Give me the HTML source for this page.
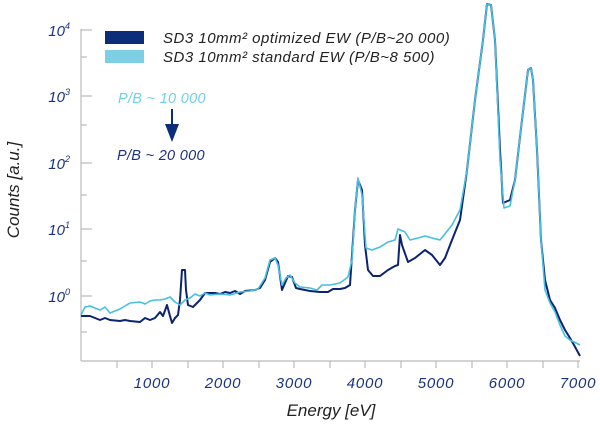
<!DOCTYPE html>
<html><head><meta charset="utf-8"><style>
html,body{margin:0;padding:0;background:#fff;}
svg{display:block;font-family:"Liberation Sans",sans-serif;}
</style></head><body>
<svg width="600" height="425" viewBox="0 0 600 425">
<g stroke="#bbb" stroke-width="1.2" fill="none">
<line x1="81" y1="29" x2="81" y2="361"/>
<line x1="81" y1="361" x2="580" y2="361"/>
<line x1="81" y1="30" x2="92" y2="30"/><line x1="81" y1="57" x2="87" y2="57"/>
<line x1="81" y1="96" x2="92" y2="96"/><line x1="81" y1="125" x2="87" y2="125"/>
<line x1="81" y1="163" x2="92" y2="163"/><line x1="81" y1="195" x2="87" y2="195"/>
<line x1="81" y1="229" x2="92" y2="229"/><line x1="81" y1="261" x2="87" y2="261"/>
<line x1="81" y1="296" x2="92" y2="296"/><line x1="81" y1="332" x2="87" y2="332"/>
<line x1="117" y1="361" x2="117" y2="368"/><line x1="152" y1="361" x2="152" y2="368"/>
<line x1="188" y1="361" x2="188" y2="368"/><line x1="223" y1="361" x2="223" y2="368"/>
<line x1="259" y1="361" x2="259" y2="368"/><line x1="294" y1="361" x2="294" y2="368"/>
<line x1="330" y1="361" x2="330" y2="368"/><line x1="365" y1="361" x2="365" y2="368"/>
<line x1="401" y1="361" x2="401" y2="368"/><line x1="436" y1="361" x2="436" y2="368"/>
<line x1="472" y1="361" x2="472" y2="368"/><line x1="507" y1="361" x2="507" y2="368"/>
<line x1="543" y1="361" x2="543" y2="368"/><line x1="578" y1="361" x2="578" y2="368"/>
</g>
<g fill="#1a3380" font-size="15" font-style="italic" text-anchor="middle" letter-spacing="0.8">
<text x="152" y="388">1000</text><text x="223" y="388">2000</text><text x="294" y="388">3000</text>
<text x="365" y="388">4000</text><text x="436" y="388">5000</text><text x="507" y="388">6000</text><text x="578" y="388">7000</text>
</g>
<g fill="#1a3380" font-size="15" font-style="italic" text-anchor="end">
<text x="70" y="36">10<tspan font-size="9" dy="-7">4</tspan></text>
<text x="70" y="102">10<tspan font-size="9" dy="-7">3</tspan></text>
<text x="70" y="169">10<tspan font-size="9" dy="-7">2</tspan></text>
<text x="70" y="235">10<tspan font-size="9" dy="-7">1</tspan></text>
<text x="70" y="302">10<tspan font-size="9" dy="-7">0</tspan></text>
</g>
<text x="331" y="416" font-size="17" font-style="italic" fill="#222" text-anchor="middle">Energy [eV]</text>
<text transform="translate(19,190) rotate(-90)" font-size="17" font-style="italic" fill="#222" text-anchor="middle">Counts [a.u.]</text>
<rect x="105" y="31" width="39" height="13" fill="#0b2d7a"/>
<rect x="105" y="50" width="39" height="13" fill="#7dd0e3"/>
<g font-size="15" font-style="italic" fill="#222" letter-spacing="0.5">
<text x="163" y="43">SD3 10mm² optimized EW (P/B~20 000)</text>
<text x="163" y="62">SD3 10mm² standard EW (P/B~8 500)</text>
</g>
<text x="118" y="103" font-size="14.5" font-style="italic" fill="#6fd0e6" letter-spacing="0.3">P/B ~ 10 000</text>
<text x="117" y="160" font-size="14.5" font-style="italic" fill="#1a3380" letter-spacing="0.3">P/B ~ 20 000</text>
<line x1="172" y1="109" x2="172" y2="130" stroke="#0b2d7a" stroke-width="2"/>
<polygon points="165,124 179,124 172,142" fill="#0b2d7a"/>
<polyline fill="none" stroke="#0b2470" stroke-width="2" stroke-linejoin="round" points="81,316 90,316 95,318 100,320 105,318 110,320 120,321 125,320 130,321 140,322 145,318 150,320 155,318 160,312 163,316 167,305 170,316 172,323 175,318 178,315 180,300 182,270 185,270 186,290 188,305 193,307 200,300 205,293 215,293 220,294 225,292 230,293 235,291 240,294 245,291 255,290 260,288 265,280 270,262 275,258 278,262 282,290 285,283 288,276 292,277 296,288 300,289 310,291 320,292 328,292 333,289 340,289 345,288 350,285 355,210 358,180 362,190 365,245 368,270 373,276 380,276 388,270 395,266 398,265 400,235 402,245 408,262 415,258 425,250 432,255 440,265 445,258 452,240 460,220 467,170 475,100 483,40 487,4 491,5 495,40 500,150 503,203 510,200 515,180 522,120 528,70 531,68 533,80 537,150 541,240 545,280 550,300 555,308 560,320 565,330 570,338 574,345 580,356"/>
<polyline fill="none" stroke="#45c0e0" stroke-width="1.6" stroke-linejoin="round" points="81,315 85,307 90,306 95,308 100,310 105,307 110,313 115,311 120,309 125,306 130,303 140,302 145,304 150,301 155,300 160,300 165,299 170,297 175,302 180,305 185,300 190,298 195,294 200,296 205,293 210,295 220,294 230,295 240,292 250,291 258,289 265,278 270,260 275,258 278,265 282,285 286,278 290,275 295,283 300,287 310,288 317,290 322,285 330,285 340,283 348,277 352,260 355,210 358,178 362,195 366,248 372,250 380,247 388,242 395,240 398,229 405,232 410,240 418,238 425,236 432,238 440,240 452,225 460,210 467,170 475,100 483,40 487,4 491,5 495,40 500,160 504,208 510,206 515,180 522,120 528,70 531,68 533,80 537,150 541,240 545,290 550,303 555,312 560,325 565,336 570,340 580,345"/>
</svg>
</body></html>
